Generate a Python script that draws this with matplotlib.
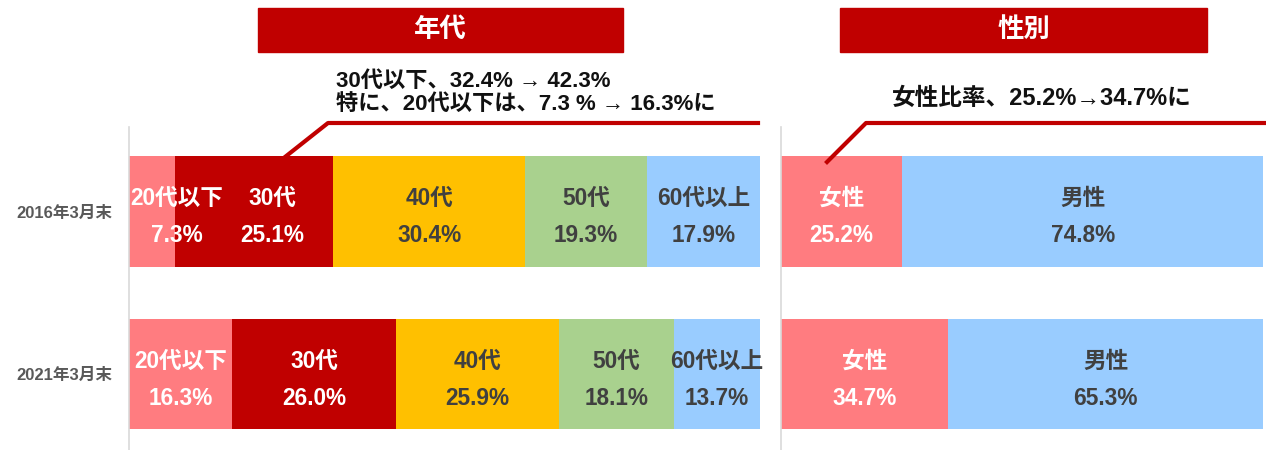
# -*- coding: utf-8 -*-
import matplotlib
matplotlib.use('Agg')
import matplotlib.pyplot as plt
from matplotlib.patches import Rectangle
from matplotlib.lines import Line2D

plt.rcParams['font.family'] = ['Liberation Sans', 'Noto Sans CJK JP', 'DejaVu Sans']

# データ
periods = ['2016年3月末', '2021年3月末']

age_groups = ['20代以下', '30代', '40代', '50代', '60代以上']
age_share = [
    [7.3, 25.1, 30.4, 19.3, 17.9],
    [16.3, 26.0, 25.9, 18.1, 13.7],
]
age_colors = ['#FF7C80', '#C00000', '#FFC000', '#A9D18E', '#99CCFF']
age_text = ['white', 'white', '#404040', '#404040', '#404040']

genders = ['女性', '男性']
gender_share = [
    [25.2, 74.8],
    [34.7, 65.3],
]
gender_colors = ['#FF7C80', '#99CCFF']
gender_text = ['white', '#404040']

note_age = '30代以下、32.4% → 42.3%\n特に、20代以下は、7.3 % → 16.3%に'
note_gender = '女性比率、25.2%→34.7%に'

W, H = 1266, 450
fig = plt.figure(figsize=(W / 100, H / 100), dpi=100)


def px(x, y):
    return x / W, 1 - y / H


def draw_bars(ax, shares, names, colors, tcolors, nudge=None):
    for row, vals in enumerate(shares):
        left = 0
        for j, v in enumerate(vals):
            ax.barh(row, v, left=left, height=0.68, color=colors[j], linewidth=0)
            cx = left + v / 2
            if nudge and (row, j) in nudge:
                cx += nudge[(row, j)]
            ax.text(cx, row - 0.08, names[j], ha='center', va='center',
                    fontsize=16.3, fontweight='bold', color=tcolors[j])
            ax.text(cx, row + 0.15, f'{v:.1f}%', ha='center', va='center',
                    fontsize=16.3, fontweight='bold', color=tcolors[j])
            left += v
    ax.set_xlim(0, 100)
    ax.set_ylim(1.468, -0.52)
    ax.set_xticks([])
    for s in ['top', 'right', 'bottom']:
        ax.spines[s].set_visible(False)
    ax.spines['left'].set_color('#D9D9D9')
    ax.spines['left'].set_linewidth(1.2)


ax1 = fig.add_axes([129 / W, 0, 631 / W, 323 / H])
draw_bars(ax1, age_share, age_groups, age_colors, age_text,
          nudge={(0, 0): 3.9, (0, 1): 2.9})
ax1.set_yticks([0, 1])
ax1.set_yticklabels(periods, fontsize=12, fontweight='bold', color='#595959')
ax1.tick_params(axis='y', length=0, pad=12)

ax2 = fig.add_axes([781 / W, 0, 482 / W, 323 / H])
draw_bars(ax2, gender_share, genders, gender_colors, gender_text)
ax2.set_yticks([])

# 見出しボックス
for x0, x1, title in [(258, 623, '年代'), (840, 1207, '性別')]:
    fx, fy = px(x0, 52)
    fig.patches.append(Rectangle((fx, fy), (x1 - x0) / W, 44 / H,
                                 transform=fig.transFigure, color='#C00000'))
    tx, ty = px((x0 + x1) / 2, 30)
    fig.text(tx, ty, title, ha='center', va='center', fontsize=19,
             fontweight='bold', color='white')

# 吹き出し線
for pts in [[(285, 157), (328, 123), (758, 123)],
            [(827, 162), (866, 123), (1266, 123)]]:
    xs = [p[0] / W for p in pts]
    ys = [1 - p[1] / H for p in pts]
    fig.lines.append(Line2D(xs, ys, transform=fig.transFigure,
                            color='#C00000', linewidth=3))

tx, ty = px(336, 93)
fig.text(tx, ty, note_age, ha='left', va='center', fontsize=16,
         fontweight='bold', color='#111111', linespacing=1.1)
tx, ty = px(1042, 98)
fig.text(tx, ty, note_gender, ha='center', va='center', fontsize=17,
         fontweight='bold', color='#111111')

fig.savefig('out.png', dpi=100)
